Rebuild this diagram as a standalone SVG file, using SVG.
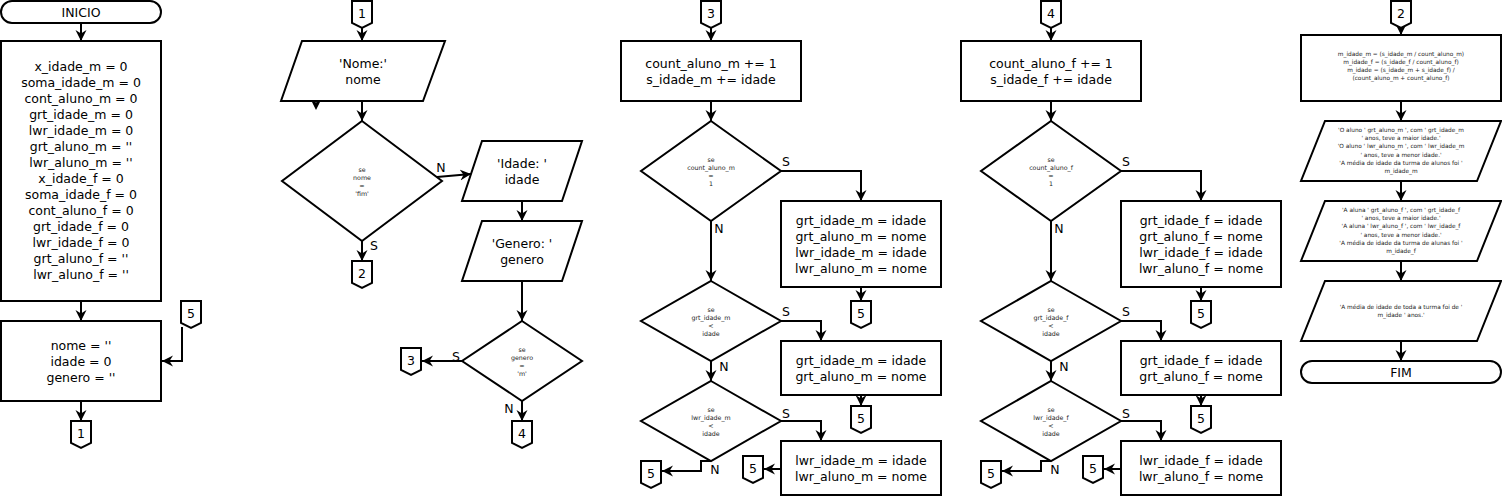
<svg xmlns="http://www.w3.org/2000/svg" width="1502" height="496" viewBox="0 0 1502 496">
<style>
.s{fill:#fff;stroke:#000;stroke-width:2}
.c{fill:none;stroke:#000;stroke-width:2;marker-end:url(#ah)}
text{font-family:"DejaVu Sans","Liberation Sans",sans-serif;font-size:12.5px;text-anchor:middle;dominant-baseline:central;fill:#000}
.d{font-size:6.3px;fill:#222}
.p{font-size:5.8px;fill:#222}
</style>
<defs>
<marker id="ah" markerUnits="userSpaceOnUse" markerWidth="12" markerHeight="12" viewBox="-11 -6 12 12" refX="0" refY="0" orient="auto"><path d="M0,0 L-11,-5.5 L-7.5,0 L-11,5.5 Z" fill="#000"/></marker>
<path id="off" d="M0,0 h20 v22 l-10,5 l-10,-5 Z" class="s"/>
</defs>
<rect width="1502" height="496" fill="#fff"/>

<g id="connectors">
<!-- column 1 -->
<path class="c" d="M81,23 V41"/>
<path class="c" d="M81,301 V321"/>
<path class="c" d="M81,401 V421"/>
<path class="c" d="M182,327 V361 H162"/>
<!-- column 2 -->
<path class="c" d="M362,27 V41"/>
<path class="c" d="M362,101 V121"/>
<path d="M316,110 L310.5,99 L316,102.5 L321.5,99 Z" fill="#000"/>
<path class="c" d="M437,177 L471,174"/>
<path class="c" d="M362,241 V261"/>
<path class="c" d="M522,201 V221"/>
<path class="c" d="M522,281 V321"/>
<path class="c" d="M462,361 H422"/>
<path class="c" d="M522,401 V421"/>
<!-- column 3 -->
<path class="c" d="M711,27 V41"/>
<path class="c" d="M711,101 V121"/>
<path class="c" d="M781,171 H861 V201"/>
<path class="c" d="M861,287 V301"/>
<path class="c" d="M711,221 V281"/>
<path class="c" d="M781,321 H821 V341"/>
<path class="c" d="M861,395 V406"/>
<path class="c" d="M711,361 V381"/>
<path class="c" d="M781,421 H821 V441"/>
<path class="c" d="M781,469 H764"/>
<path class="c" d="M711,461 H701 V471 H662"/>
<!-- column 4 -->
<path class="c" d="M1051,27 V41"/>
<path class="c" d="M1051,101 V121"/>
<path class="c" d="M1121,171 H1201 V201"/>
<path class="c" d="M1201,287 V301"/>
<path class="c" d="M1051,221 V281"/>
<path class="c" d="M1121,321 H1161 V341"/>
<path class="c" d="M1201,395 V406"/>
<path class="c" d="M1051,361 V381"/>
<path class="c" d="M1121,421 H1161 V441"/>
<path class="c" d="M1121,469 H1104"/>
<path class="c" d="M1051,461 H1041 V471 H1002"/>
<!-- column 5 -->
<path class="c" d="M1401,27 V35"/>
<path class="c" d="M1401,101 V121"/>
<path class="c" d="M1401,181 V201"/>
<path class="c" d="M1401,261 V281"/>
<path class="c" d="M1401,341 V361"/>
<!-- labels -->
<text x="441" y="167">N</text>
<text x="374" y="245">S</text>
<text x="456" y="356">S</text>
<text x="509" y="408">N</text>
<text x="786" y="161">S</text>
<text x="719" y="228">N</text>
<text x="786" y="311">S</text>
<text x="724" y="366">N</text>
<text x="786" y="413">S</text>
<text x="715" y="469">N</text>
<text x="1126" y="161">S</text>
<text x="1059" y="228">N</text>
<text x="1126" y="311">S</text>
<text x="1064" y="366">N</text>
<text x="1126" y="413">S</text>
<text x="1055" y="469">N</text>
</g>

<!-- column 1 -->
<g id="inicio"><rect class="s" x="1" y="1" width="160" height="22" rx="11"/><text x="81" y="12">INICIO</text></g>
<g id="init_vars"><rect class="s" x="1" y="41" width="160" height="260"/>
<text x="81" y="66.5">x_idade_m = 0</text>
<text x="81" y="82.5">soma_idade_m = 0</text>
<text x="81" y="98.5">cont_aluno_m = 0</text>
<text x="81" y="114.5">grt_idade_m = 0</text>
<text x="81" y="130.5">lwr_idade_m = 0</text>
<text x="81" y="146.5">grt_aluno_m = ''</text>
<text x="81" y="162.5">lwr_aluno_m = ''</text>
<text x="81" y="178.5">x_idade_f = 0</text>
<text x="81" y="194.5">soma_idade_f = 0</text>
<text x="81" y="210.5">cont_aluno_f = 0</text>
<text x="81" y="226.5">grt_idade_f = 0</text>
<text x="81" y="242.5">lwr_idade_f = 0</text>
<text x="81" y="258.5">grt_aluno_f = ''</text>
<text x="81" y="274.5">lwr_aluno_f = ''</text>
</g>
<g id="reset_vars"><rect class="s" x="1" y="321" width="160" height="80"/>
<text x="81" y="345">nome = ''</text><text x="81" y="361">idade = 0</text><text x="81" y="377">genero = ''</text></g>
<g id="off_1a"><use href="#off" x="71" y="421"/><text x="81" y="433">1</text></g>
<g id="off_5a"><use href="#off" x="181" y="301"/><text x="191" y="313">5</text></g>

<!-- column 2 -->
<g id="off_1b"><use href="#off" x="352" y="1"/><text x="362" y="13">1</text></g>
<g id="in_nome"><path class="s" d="M302,41 H445 L423,101 H281 Z"/><text x="363" y="63">'Nome:'</text><text x="363" y="79">nome</text></g>
<g id="dec_fim"><path class="s" d="M362,121 L442,181 L362,241 L282,181 Z"/>
<text class="d" x="362" y="169">se</text><text class="d" x="362" y="177">nome</text><text class="d" x="362" y="185">=</text><text class="d" x="362" y="193">'fim'</text></g>
<g id="off_2a"><use href="#off" x="352" y="261"/><text x="362" y="273">2</text></g>
<g id="in_idade"><path class="s" d="M482,141 H582 L562,201 H462 Z"/><text x="522" y="163">'Idade: '</text><text x="522" y="179">idade</text></g>
<g id="in_genero"><path class="s" d="M482,221 H582 L562,281 H462 Z"/><text x="522" y="243">'Genero: '</text><text x="522" y="259">genero</text></g>
<g id="dec_genero"><path class="s" d="M522,321 L582,361 L522,401 L462,361 Z"/>
<text class="d" x="522" y="349">se</text><text class="d" x="522" y="357">genero</text><text class="d" x="522" y="365">=</text><text class="d" x="522" y="373">'m'</text></g>
<g id="off_3a"><use href="#off" x="401" y="348"/><text x="411" y="360">3</text></g>
<g id="off_4a"><use href="#off" x="512" y="421"/><text x="522" y="433">4</text></g>

<!-- column 3 -->
<g id="off_3b"><use href="#off" x="701" y="1"/><text x="711" y="13">3</text></g>
<g id="inc_m"><rect class="s" x="621" y="41" width="180" height="60"/><text x="711" y="63">count_aluno_m += 1</text><text x="711" y="79">s_idade_m += idade</text></g>
<g id="dec_cm"><path class="s" d="M711,121 L781,171 L711,221 L641,171 Z"/>
<text class="d" x="711" y="159">se</text><text class="d" x="711" y="167">count_aluno_m</text><text class="d" x="711" y="175">=</text><text class="d" x="711" y="183">1</text></g>
<g id="set_all_m"><rect class="s" x="781" y="201" width="160" height="86"/>
<text x="861" y="220">grt_idade_m = idade</text><text x="861" y="236">grt_aluno_m = nome</text><text x="861" y="252">lwr_idade_m = idade</text><text x="861" y="268">lwr_aluno_m = nome</text></g>
<g id="off_5b"><use href="#off" x="851" y="301"/><text x="861" y="313">5</text></g>
<g id="dec_gm"><path class="s" d="M711,281 L781,321 L711,361 L641,321 Z"/>
<text class="d" x="711" y="309">se</text><text class="d" x="711" y="317">grt_idade_m</text><text class="d" x="711" y="325">&lt;</text><text class="d" x="711" y="333">idade</text></g>
<g id="set_grt_m"><rect class="s" x="781" y="341" width="160" height="54"/>
<text x="861" y="360">grt_idade_m = idade</text><text x="861" y="376">grt_aluno_m = nome</text></g>
<g id="off_5c"><use href="#off" x="851" y="406"/><text x="861" y="418">5</text></g>
<g id="dec_lm"><path class="s" d="M711,381 L781,421 L711,461 L641,421 Z"/>
<text class="d" x="711" y="409">se</text><text class="d" x="711" y="417">lwr_idade_m</text><text class="d" x="711" y="425">&lt;</text><text class="d" x="711" y="433">idade</text></g>
<g id="set_lwr_m"><rect class="s" x="781" y="441" width="160" height="54"/>
<text x="861" y="460">lwr_idade_m = idade</text><text x="861" y="476">lwr_aluno_m = nome</text></g>
<g id="off_5d"><use href="#off" x="743" y="456"/><text x="753" y="468">5</text></g>
<g id="off_5e"><use href="#off" x="641" y="461"/><text x="651" y="473">5</text></g>

<!-- column 4 -->
<g id="off_4b"><use href="#off" x="1041" y="1"/><text x="1051" y="13">4</text></g>
<g id="inc_f"><rect class="s" x="961" y="41" width="180" height="60"/><text x="1051" y="63">count_aluno_f += 1</text><text x="1051" y="79">s_idade_f += idade</text></g>
<g id="dec_cf"><path class="s" d="M1051,121 L1121,171 L1051,221 L981,171 Z"/>
<text class="d" x="1051" y="159">se</text><text class="d" x="1051" y="167">count_aluno_f</text><text class="d" x="1051" y="175">=</text><text class="d" x="1051" y="183">1</text></g>
<g id="set_all_f"><rect class="s" x="1121" y="201" width="160" height="86"/>
<text x="1201" y="220">grt_idade_f = idade</text><text x="1201" y="236">grt_aluno_f = nome</text><text x="1201" y="252">lwr_idade_f = idade</text><text x="1201" y="268">lwr_aluno_f = nome</text></g>
<g id="off_5f"><use href="#off" x="1191" y="301"/><text x="1201" y="313">5</text></g>
<g id="dec_gf"><path class="s" d="M1051,281 L1121,321 L1051,361 L981,321 Z"/>
<text class="d" x="1051" y="309">se</text><text class="d" x="1051" y="317">grt_idade_f</text><text class="d" x="1051" y="325">&lt;</text><text class="d" x="1051" y="333">idade</text></g>
<g id="set_grt_f"><rect class="s" x="1121" y="341" width="160" height="54"/>
<text x="1201" y="360">grt_idade_f = idade</text><text x="1201" y="376">grt_aluno_f = nome</text></g>
<g id="off_5g"><use href="#off" x="1191" y="406"/><text x="1201" y="418">5</text></g>
<g id="dec_lf"><path class="s" d="M1051,381 L1121,421 L1051,461 L981,421 Z"/>
<text class="d" x="1051" y="409">se</text><text class="d" x="1051" y="417">lwr_idade_f</text><text class="d" x="1051" y="425">&lt;</text><text class="d" x="1051" y="433">idade</text></g>
<g id="set_lwr_f"><rect class="s" x="1121" y="441" width="160" height="54"/>
<text x="1201" y="460">lwr_idade_f = idade</text><text x="1201" y="476">lwr_aluno_f = nome</text></g>
<g id="off_5h"><use href="#off" x="1083" y="456"/><text x="1093" y="468">5</text></g>
<g id="off_5i"><use href="#off" x="981" y="461"/><text x="991" y="473">5</text></g>

<!-- column 5 -->
<g id="off_2b"><use href="#off" x="1391" y="1"/><text x="1401" y="13">2</text></g>
<g id="medias"><rect class="s" x="1301" y="35" width="200" height="66"/>
<text class="p" x="1401" y="54">m_idade_m = (s_idade_m / count_aluno_m)</text>
<text class="p" x="1401" y="62">m_idade_f = (s_idade_f / count_aluno_f)</text>
<text class="p" x="1401" y="70">m_idade = (s_idade_m + s_idade_f) /</text>
<text class="p" x="1401" y="78">(count_aluno_m + count_aluno_f)</text></g>
<g id="out_m"><path class="s" d="M1325,121 H1501 L1477,181 H1301 Z"/>
<text class="p" x="1401" y="130">'O aluno ' grt_aluno_m ', com ' grt_idade_m</text>
<text class="p" x="1401" y="138.2">' anos, teve a maior idade.'</text>
<text class="p" x="1401" y="146.4">'O aluno ' lwr_aluno_m ', com ' lwr_idade_m</text>
<text class="p" x="1401" y="154.6">' anos, teve a menor idade.'</text>
<text class="p" x="1401" y="162.8">'A média de idade da turma de alunos foi '</text>
<text class="p" x="1401" y="171">m_idade_m</text></g>
<g id="out_f"><path class="s" d="M1325,201 H1501 L1477,261 H1301 Z"/>
<text class="p" x="1401" y="210">'A aluna ' grt_aluno_f ', com ' grt_idade_f</text>
<text class="p" x="1401" y="218.2">' anos, teve a maior idade.'</text>
<text class="p" x="1401" y="226.4">'A aluna ' lwr_aluno_f ', com ' lwr_idade_f</text>
<text class="p" x="1401" y="234.6">' anos, teve a menor idade.'</text>
<text class="p" x="1401" y="242.8">'A média de idade da turma de alunas foi '</text>
<text class="p" x="1401" y="251">m_idade_f</text></g>
<g id="out_all"><path class="s" d="M1325,281 H1501 L1477,341 H1301 Z"/>
<text class="p" x="1401" y="307">'A média de idade de toda a turma foi de '</text>
<text class="p" x="1401" y="315">m_idade ' anos.'</text></g>
<g id="fim"><rect class="s" x="1301" y="361" width="200" height="22" rx="11"/><text x="1401" y="372">FIM</text></g>
</svg>
